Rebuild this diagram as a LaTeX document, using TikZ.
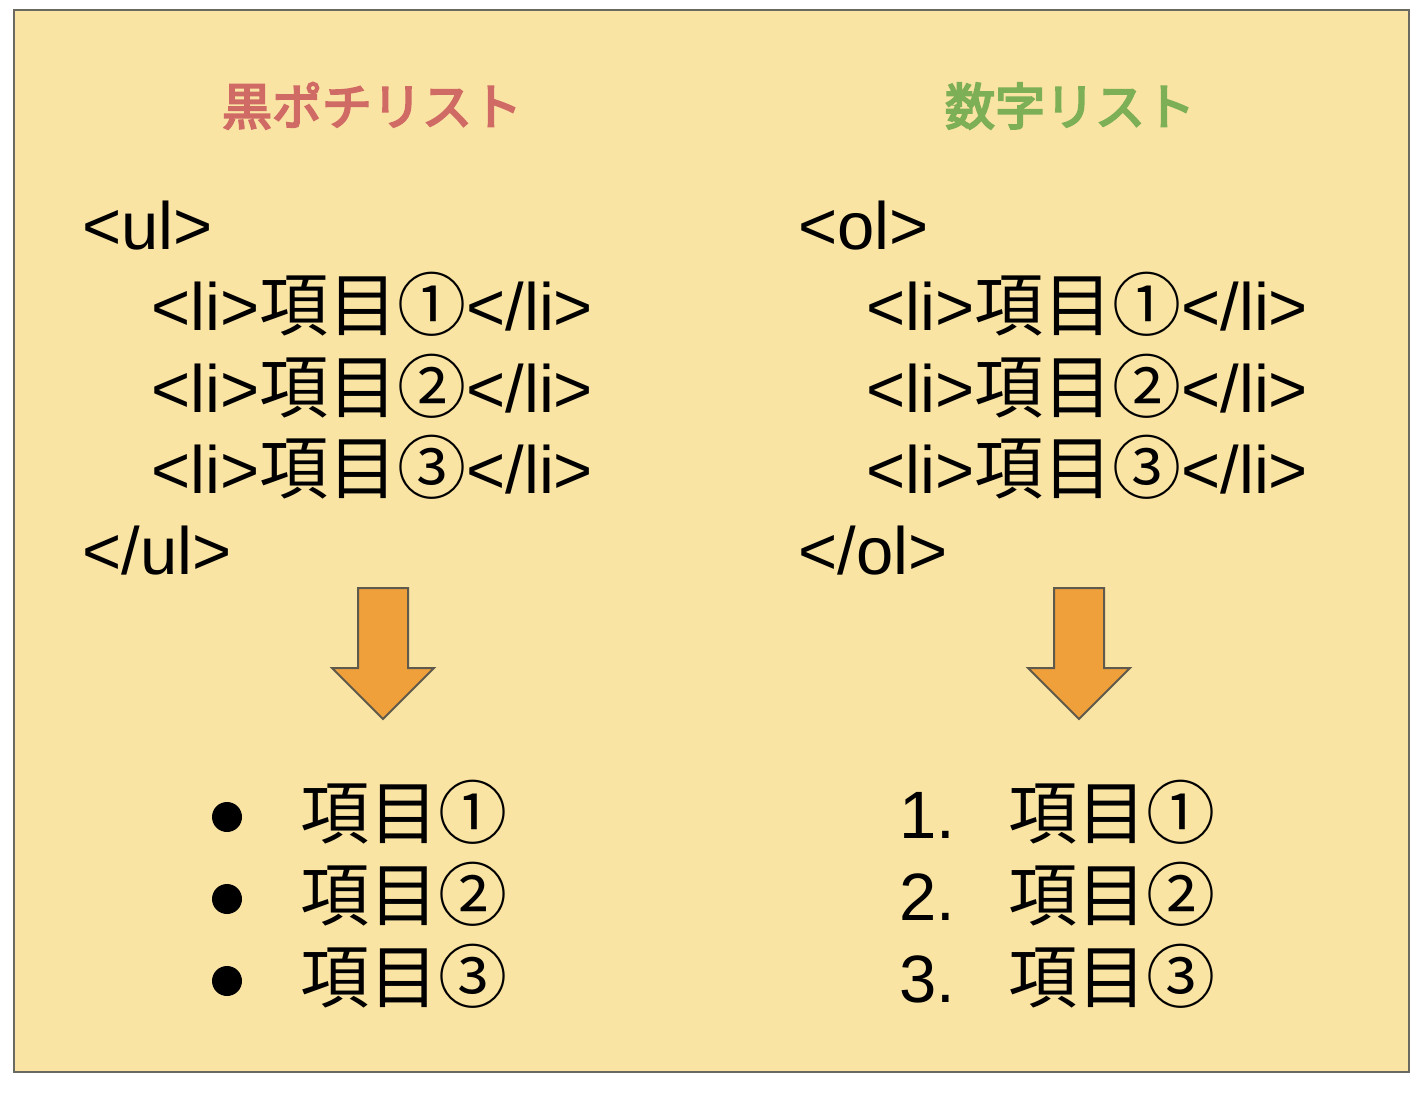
\documentclass[tikz,border=0pt]{standalone}
\usepackage{fontspec}
\setmainfont{Liberation Sans}
\newfontfamily\jp[Scale=1.03]{Noto Sans CJK JP}
\newfontfamily\jptitle[FakeBold=4]{Noto Sans CJK JP}
\usepackage{xcolor}
\usetikzlibrary{positioning}

\definecolor{paper}{HTML}{FAE4A4}
\definecolor{frame}{HTML}{6A6A62}
\definecolor{titlered}{HTML}{D06A64}
\definecolor{titlegreen}{HTML}{7DAF57}
\definecolor{arrowfill}{HTML}{F0A03A}
\definecolor{arrowline}{HTML}{5F5A4B}

\begin{document}
\begin{tikzpicture}[
    x=0.5pt, y=-0.5pt,
    code/.style={anchor=base west, inner sep=0pt, font=\fontsize{33.5}{40}\selectfont},
    heading/.style={anchor=base, inner sep=0pt, font=\fontsize{25}{30}\selectfont\jptitle, text=#1},
    blockarrow/.style={draw=arrowline, line width=1pt, fill=arrowfill, line join=miter},
    dot/.style={circle, fill=black, inner sep=0pt, minimum size=15pt}
]
    \useasboundingbox (0,0) rectangle (1428,1096);

    % Background panel
    \draw[frame, line width=1.2pt, fill=paper] (14,10) rectangle (1409,1072);

    % Titles
    \node[heading=titlered] (ultitle) at (372,125) {黒ポチリスト};
    \node[heading=titlegreen] (oltitle) at (1070,125) {数字リスト};

    % Left column: ul source
    \node[code] (ulopen) at (82,250) {<ul>};
    \foreach \i/\n in {1/①,2/②,3/③}
        \node[code] (ulli\i) at (151,250+81*\i) {<li>{\jp 項目\n}</li>};
    \node[code] (ulclose) at (82,574) {</ul>};

    % Right column: ol source
    \node[code] (olopen) at (798,250) {<ol>};
    \foreach \i/\n in {1/①,2/②,3/③}
        \node[code] (olli\i) at (866,250+81*\i) {<li>{\jp 項目\n}</li>};
    \node[code] (olclose) at (798,574) {</ol>};

    % Block arrows
    \foreach \cx in {383,1079}
        \draw[blockarrow] (\cx-25,588) -- (\cx+25,588) -- (\cx+25,668) -- (\cx+51,668)
            -- (\cx,719) -- (\cx-51,668) -- (\cx-25,668) -- cycle;

    % Rendered lists
    \foreach \i/\n in {1/①,2/②,3/③} {
        \node[dot] (bullet\i) at (227,817-82+82*\i) {};
        \node[code] (ulitem\i) at (300,838-82+82*\i) {\jp 項目\n};
        \node[code] (num\i) at (899,838-82+82*\i) {\i.};
        \node[code] (olitem\i) at (1008,838-82+82*\i) {\jp 項目\n};
    }
\end{tikzpicture}
\end{document}
